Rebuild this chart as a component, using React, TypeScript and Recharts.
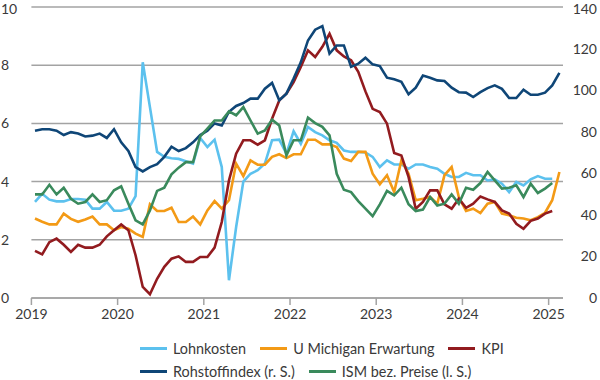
import React from "react";
import { LineChart, Line, XAxis, YAxis, CartesianGrid, Legend } from "recharts";

// monthly values, Jan 2019 .. Feb 2025 (plotted at mid-month)
const startYear = 2019;
const yearLabels = [2019, 2020, 2021, 2022, 2023, 2024, 2025];

const lohnkosten = [
  3.3, 3.58, 3.38, 3.32, 3.32, 3.4, 3.4, 3.38, 3.07, 3.07, 3.3, 3.0,
  3.0, 3.07, 3.5, 8.1, 6.56, 5.02, 4.85, 4.8, 4.78, 4.7, 4.62, 5.5,
  5.19, 5.44, 4.5, 0.61, 2.44, 4.0, 4.27, 4.39, 4.62, 5.42, 5.44, 4.96,
  5.73, 5.3, 5.88, 5.7, 5.59, 5.42, 5.33, 5.07, 5.02, 5.02, 5.0, 4.85,
  4.5, 4.73, 4.59, 4.59, 4.44, 4.59, 4.59, 4.5, 4.44, 4.27, 4.16, 4.16,
  4.3, 4.22, 4.22, 4.04, 4.08, 3.93, 3.64, 3.99, 3.87, 4.08, 4.19, 4.1,
  4.1,
];

const michigan = [
  2.73, 2.62, 2.53, 2.53, 2.9, 2.72, 2.62, 2.7, 2.8, 2.53, 2.53, 2.33,
  2.44, 2.38, 2.21, 2.1, 3.22, 2.99, 2.99, 3.1, 2.61, 2.61, 2.8, 2.53,
  3.01, 3.33, 3.07, 3.36, 4.62, 4.19, 4.73, 4.58, 4.58, 4.85, 4.94, 4.81,
  4.94, 4.94, 5.44, 5.44, 5.28, 5.28, 5.19, 4.79, 4.71, 5.02, 5.02, 4.27,
  3.91, 4.22, 3.64, 4.73, 4.27, 3.36, 3.41, 3.47, 3.24, 4.22, 4.5, 3.47,
  2.99, 3.07, 2.92, 3.24, 3.3, 2.9, 2.84, 2.76, 2.73, 2.67, 2.78, 2.93,
  3.36, 4.33,
];

const kpi = [
  1.62, 1.5, 1.92, 2.04, 1.83, 1.58, 1.83, 1.73, 1.73, 1.83, 2.12, 2.33,
  2.53, 2.33, 1.47, 0.38, 0.13, 0.66, 1.07, 1.35, 1.43, 1.24, 1.24, 1.41,
  1.41, 1.73, 2.61, 4.04, 4.96, 5.42, 5.42, 5.27, 5.42, 6.16, 6.79, 7.02,
  7.42, 7.94, 8.51, 8.28, 8.63, 9.08, 8.51, 8.3, 8.17, 7.77, 7.1, 6.5,
  6.39, 5.99, 4.98, 4.9, 4.16, 3.07, 3.3, 3.7, 3.7, 3.22, 3.07, 3.41,
  3.1, 3.24, 3.49, 3.39, 3.3, 3.01, 2.9, 2.55, 2.38, 2.65, 2.73, 2.9,
  2.99,
];

// right scale
const rohstoff = [
  80.5, 81.2, 81.2, 80.5, 78.4, 79.8, 79.1, 77.7, 78.1, 79.1, 77, 81.2,
  74.9, 70.7, 63, 60.9, 63, 64.4, 67.9, 72.8, 70.7, 72.1, 74.9, 78.4,
  80.5, 84, 83, 89.6, 92.4, 93.8, 95.9, 95.9, 100.7, 103.5, 95.1, 98.3,
  105.6, 113.4, 123.9, 129.1, 130.8, 117.6, 121.5, 121.5, 111.2, 112.7, 115.6, 112.4,
  111.6, 106, 105.2, 104, 98, 101.2, 107, 106, 104.7, 104.4, 101.2, 99,
  98.8, 96.7, 99, 101, 102.3, 100.6, 96.2, 96.2, 100.2, 97.8, 97.8, 98.8,
  102.3, 108.3,
];

const ism = [
  3.56, 3.56, 3.89, 3.56, 3.79, 3.41, 3.24, 3.3, 3.56, 3.3, 3.36, 3.7,
  3.84, 3.24, 2.67, 2.53, 3.01, 3.68, 3.79, 4.25, 4.48, 4.67, 4.67, 5.55,
  5.82, 6.1, 6.1, 6.41, 6.28, 6.56, 6.1, 5.65, 5.76, 6.13, 5.93, 4.9,
  5.42, 5.42, 6.2, 6.01, 5.88, 5.59, 4.27, 3.72, 3.64, 3.33, 3.07, 2.81,
  3.22, 3.68, 3.53, 3.79, 3.22, 2.99, 3.04, 3.47, 3.18, 3.24, 3.56, 3.24,
  3.79, 3.72, 3.95, 4.33, 4.04, 3.76, 3.79, 3.87, 3.47, 3.93, 3.61, 3.76,
  3.95,
];

const series = [
  { key: "lohn", name: "Lohnkosten", color: "#5cc1ee", axis: "left", values: lohnkosten },
  { key: "umich", name: "U Michigan Erwartung", color: "#f39a16", axis: "left", values: michigan },
  { key: "kpi", name: "KPI", color: "#921b1f", axis: "left", values: kpi },
  { key: "roh", name: "Rohstoffindex (r. S.)", color: "#0f4677", axis: "right", values: rohstoff },
  { key: "ism", name: "ISM bez. Preise (l. S.)", color: "#3a8a5c", axis: "left", values: ism },
];

const legendRows = [["lohn", "umich", "kpi"], ["roh", "ism"]];

const nMonths = rohstoff.length;
const data = Array.from({ length: nMonths }, (_, i) => {
  const row: any = { x: i + 0.5 };
  series.forEach((s) => {
    row[s.key] = i < s.values.length ? s.values[i] : null;
  });
  return row;
});

const xTicks = yearLabels.map((y) => (y - startYear) * 12);
const font = "Lato, 'Open Sans', sans-serif";
const textColor = "#3a3a3a";
const gridColor = "#a3a3a3";

const LeftTick = (props: any) => (
  <text x={1} y={props.y} dy={5} textAnchor="start" fontSize={14} fill={textColor} fontFamily={font}>
    {props.payload.value}
  </text>
);

const RightTick = (props: any) => (
  <text x={597} y={props.y} dy={5} textAnchor="end" fontSize={14} fill={textColor} fontFamily={font}>
    {props.payload.value}
  </text>
);

// legend: two left-aligned rows, as in the original
const LegendContent = () => (
  <div style={{ height: 52, paddingTop: 8.5, paddingLeft: 140, boxSizing: "border-box", fontFamily: font, fontSize: 14.4, color: textColor }}>
    {legendRows.map((row, r) => (
      <div key={r} style={{ display: "flex", alignItems: "center", height: 23 }}>
        {row.map((k) => {
          const s = series.find((d) => d.key === k)!;
          return (
            <div key={k} style={{ display: "flex", alignItems: "center", marginRight: 14 }}>
              <span style={{ display: "inline-block", width: 27, height: 3, background: s.color, marginRight: 6 }} />
              <span>{s.name}</span>
            </div>
          );
        })}
      </div>
    ))}
  </div>
);

export default function App() {
  return (
    <div style={{ position: "absolute", left: 0, top: 0, width: 600, height: 380, background: "#fff" }}>
      <LineChart width={600} height={380} data={data} margin={{ top: 7, right: 0, bottom: 0, left: 0 }}>
        <CartesianGrid vertical={false} yAxisId="left" stroke={gridColor} strokeWidth={1.5} />
        <XAxis
          type="number"
          dataKey="x"
          domain={[0, 74]}
          ticks={xTicks}
          tickFormatter={(v: number) => String(startYear + v / 12)}
          axisLine={{ stroke: gridColor, strokeWidth: 1.5 }}
          tickLine={{ stroke: gridColor, strokeWidth: 1.5 }}
          tickSize={7}
          tickMargin={4}
          height={30}
          tick={{ fontSize: 14, fill: textColor, fontFamily: font }}
        />
        <YAxis
          yAxisId="left"
          orientation="left"
          domain={[0, 10]}
          ticks={[0, 2, 4, 6, 8, 10]}
          width={31.4}
          axisLine={false}
          tickLine={false}
          tick={<LeftTick />}
        />
        <YAxis
          yAxisId="right"
          orientation="right"
          domain={[0, 140]}
          ticks={[0, 20, 40, 60, 80, 100, 120, 140]}
          width={37}
          axisLine={false}
          tickLine={false}
          tick={<RightTick />}
        />
        <Legend verticalAlign="bottom" content={<LegendContent />} />
        {series.map((s) => (
          <Line
            key={s.key}
            yAxisId={s.axis}
            type="linear"
            dataKey={s.key}
            name={s.name}
            stroke={s.color}
            strokeWidth={2.6}
            dot={false}
            connectNulls={false}
            isAnimationActive={false}
          />
        ))}
      </LineChart>
    </div>
  );
}
